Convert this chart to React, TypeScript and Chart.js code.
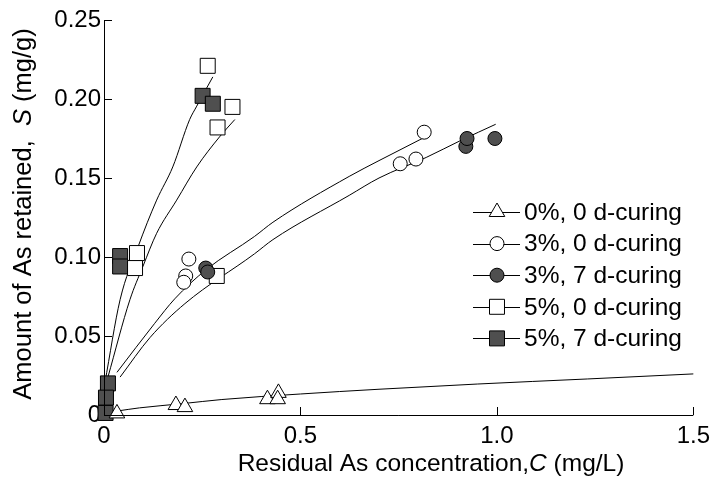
import { useEffect, useRef } from 'react';
import { Chart, registerables } from 'chart.js';

Chart.register(...registerables);

const FONT = 'Arial, "Liberation Sans", sans-serif';
const FILL_DARK = '#4f4f4f';

// Legend labels
const seriesLabels = ['0%, 0 d-curing', '3%, 0 d-curing', '3%, 7 d-curing', '5%, 0 d-curing', '5%, 7 d-curing'];

// Measured points: residual concentration C (mg/L) and amount retained S (mg/g)
const c0pct0d = [0.033, 0.183, 0.206, 0.416, 0.444, 0.442];
const s0pct0d = [0.001, 0.0063, 0.005, 0.010, 0.014, 0.010];

const c3pct0d = [0.216, 0.208, 0.203, 0.754, 0.794, 0.815];
const s3pct0d = [0.0987, 0.088, 0.084, 0.159, 0.162, 0.179];

const c3pct7d = [0.259, 0.264, 0.921, 0.924, 0.995];
const s3pct7d = [0.093, 0.0905, 0.170, 0.175, 0.175];

const c5pct0d = [0.084, 0.079, 0.287, 0.264, 0.289, 0.327];
const s5pct0d = [0.1025, 0.093, 0.088, 0.221, 0.182, 0.195];

const c5pct7d = [0.01, 0.005, 0.004, 0.041, 0.041, 0.251, 0.277];
const s5pct7d = [0.020, 0.011, 0.0013, 0.1006, 0.094, 0.202, 0.197];

// Fitted isotherm curves
const fitC0pct0d = [0.033, 0.09, 0.2, 0.3, 0.5, 0.7, 0.95, 1.23, 1.5];
const fitS0pct0d = [0.0025, 0.0045, 0.0072, 0.0098, 0.0133, 0.0163, 0.0196, 0.0228, 0.026];

const fitC3pct0d = [0.033, 0.129, 0.18, 0.26, 0.383, 0.43, 0.624, 0.70, 0.81];
const fitS3pct0d = [0.027, 0.058, 0.0735, 0.092, 0.113, 0.122, 0.151, 0.161, 0.175];

const fitC3pct7d = [0.041, 0.117, 0.206, 0.383, 0.43, 0.624, 0.70, 0.82, 0.91, 0.997];
const fitS3pct7d = [0.024, 0.049, 0.0705, 0.102, 0.111, 0.139, 0.150, 0.163, 0.174, 0.184];

const fitC5pct0d = [0.01, 0.066, 0.099, 0.134, 0.185, 0.236, 0.294, 0.333];
const fitS5pct0d = [0.024, 0.073, 0.094, 0.115, 0.136, 0.157, 0.176, 0.187];

const fitC5pct7d = [0.002, 0.041, 0.086, 0.134, 0.175, 0.218, 0.235, 0.277];
const fitS5pct7d = [0.02, 0.073, 0.106, 0.136, 0.157, 0.187, 0.195, 0.214];

// Axis ticks
const xTicks = [0, 0.5, 1.0, 1.5];
const yTicks = [0, 0.05, 0.1, 0.15, 0.2, 0.25];

type Marker = { style: 'triangle' | 'circle' | 'rect'; fill: string; radius: number };
const markers: Marker[] = [
  { style: 'triangle', fill: '#ffffff', radius: 9 },
  { style: 'circle', fill: '#ffffff', radius: 7 },
  { style: 'circle', fill: FILL_DARK, radius: 7 },
  { style: 'rect', fill: '#ffffff', radius: 10.6 },
  { style: 'rect', fill: FILL_DARK, radius: 10.6 },
];

const pts = (xs: number[], ys: number[]) => xs.map((x, i) => ({ x, y: ys[i] }));

function drawMarker(ctx: CanvasRenderingContext2D, m: Marker, x: number, y: number) {
  ctx.save();
  ctx.fillStyle = m.fill;
  ctx.strokeStyle = '#000';
  ctx.lineWidth = 1;
  ctx.beginPath();
  if (m.style === 'circle') {
    ctx.arc(x, y, m.radius, 0, Math.PI * 2);
  } else if (m.style === 'rect') {
    const h = m.radius * Math.SQRT1_2;
    ctx.rect(x - h, y - h, 2 * h, 2 * h);
  } else {
    const r = m.radius;
    ctx.moveTo(x, y - r);
    ctx.lineTo(x + r * Math.sin(Math.PI / 3), y + r * 0.5);
    ctx.lineTo(x - r * Math.sin(Math.PI / 3), y + r * 0.5);
    ctx.closePath();
  }
  ctx.fill();
  ctx.stroke();
  ctx.restore();
}

function drawMixed(ctx: CanvasRenderingContext2D, parts: [string, boolean][], size: number) {
  const widths = parts.map(([t, it]) => {
    ctx.font = `${it ? 'italic ' : ''}${size}px ${FONT}`;
    return ctx.measureText(t).width;
  });
  const total = widths.reduce((a, b) => a + b, 0);
  let x = -total / 2;
  parts.forEach(([t, it], i) => {
    ctx.font = `${it ? 'italic ' : ''}${size}px ${FONT}`;
    ctx.fillText(t, x, 0);
    x += widths[i];
  });
}

const decorations = {
  id: 'decorations',
  afterDraw(chart: any) {
    const ctx: CanvasRenderingContext2D = chart.ctx;
    const { left, right, top, bottom } = chart.chartArea;
    const xs = chart.scales.x;
    const ys = chart.scales.y;
    ctx.save();
    ctx.strokeStyle = '#000';
    ctx.lineWidth = 1;
    // axis lines
    ctx.beginPath();
    ctx.moveTo(left + 0.5, top);
    ctx.lineTo(left + 0.5, bottom + 0.5);
    ctx.lineTo(right, bottom + 0.5);
    ctx.stroke();
    // inward tick marks
    ctx.beginPath();
    yTicks.forEach((v) => {
      const py = Math.round(ys.getPixelForValue(v)) + 0.5;
      ctx.moveTo(left, py);
      ctx.lineTo(left + 8, py);
    });
    xTicks.forEach((v) => {
      const px = Math.round(xs.getPixelForValue(v)) + 0.5;
      ctx.moveTo(px, bottom);
      ctx.lineTo(px, bottom - 8);
    });
    ctx.stroke();

    // axis titles
    ctx.fillStyle = '#000';
    ctx.textBaseline = 'middle';
    ctx.textAlign = 'left';
    ctx.save();
    ctx.translate(431, 464);
    drawMixed(ctx, [['Residual As concentration,', false], ['C', true], [' (mg/L)', false]], 24.5);
    ctx.restore();
    ctx.save();
    ctx.translate(24, 214);
    ctx.rotate(-Math.PI / 2);
    drawMixed(ctx, [['Amount of As retained,  ', false], ['S', true], [' (mg/g)', false]], 25.5);
    ctx.restore();

    // legend
    const x0 = 473;
    const x1 = 520;
    const xm = 497;
    seriesLabels.forEach((label, i) => {
      const y = 212 + i * 31.6;
      ctx.beginPath();
      ctx.moveTo(x0, Math.round(y) + 0.5);
      ctx.lineTo(x1, Math.round(y) + 0.5);
      ctx.stroke();
      drawMarker(ctx, markers[i], xm, y);
      ctx.fillStyle = '#000';
      ctx.font = `24.5px ${FONT}`;
      ctx.textAlign = 'left';
      ctx.textBaseline = 'middle';
      ctx.fillText(label, 524, y + 1);
    });
    ctx.restore();
  },
};

export default function App() {
  const ref = useRef<HTMLCanvasElement>(null);

  useEffect(() => {
    document.body.style.margin = '0';
    const canvas = ref.current;
    if (!canvas) return;

    const measured = [
      [c0pct0d, s0pct0d],
      [c3pct0d, s3pct0d],
      [c3pct7d, s3pct7d],
      [c5pct0d, s5pct0d],
      [c5pct7d, s5pct7d],
    ];
    const fits = [
      [fitC0pct0d, fitS0pct0d],
      [fitC3pct0d, fitS3pct0d],
      [fitC3pct7d, fitS3pct7d],
      [fitC5pct0d, fitS5pct0d],
      [fitC5pct7d, fitS5pct7d],
    ];

    const datasets: any[] = [];
    fits.forEach(([xs, ys], i) => {
      datasets.push({
        label: `fit ${seriesLabels[i]}`,
        data: pts(xs, ys),
        showLine: true,
        borderColor: '#000',
        borderWidth: 1,
        pointRadius: 0,
        cubicInterpolationMode: 'monotone',
        order: 2,
        clip: false,
      });
    });
    measured.forEach(([xs, ys], i) => {
      const m = markers[i];
      datasets.push({
        label: seriesLabels[i],
        data: pts(xs, ys),
        showLine: false,
        pointStyle: m.style,
        pointRadius: m.radius,
        pointBackgroundColor: m.fill,
        pointBorderColor: '#000',
        pointBorderWidth: 1,
        order: 1,
        clip: false,
      });
    });

    const chart = new Chart(canvas, {
      type: 'scatter',
      data: { datasets },
      options: {
        animation: false,
        responsive: false,
        events: [],
        layout: { padding: { left: 0, top: 20, right: 20, bottom: 0 } },
        plugins: { legend: { display: false }, tooltip: { enabled: false } },
        scales: {
          x: {
            type: 'linear',
            min: 0,
            max: 1.5,
            afterFit: (s: any) => { s.height = 68; },
            afterBuildTicks: (s: any) => { s.ticks = xTicks.map((v) => ({ value: v })); },
            grid: { display: false, drawTicks: false },
            border: { display: false },
            ticks: {
              padding: 7,
              color: '#000',
              font: { family: FONT, size: 24 },
              callback: (v: any) => (v === 0 ? '0' : Number(v).toFixed(1)),
            },
          },
          y: {
            type: 'linear',
            min: 0,
            max: 0.25,
            afterFit: (s: any) => { s.width = 104; },
            afterBuildTicks: (s: any) => { s.ticks = yTicks.map((v) => ({ value: v })); },
            grid: { display: false, drawTicks: false },
            border: { display: false },
            ticks: {
              padding: 3,
              color: '#000',
              font: { family: FONT, size: 24 },
              callback: (v: any) => (v === 0 ? '0' : Number(v).toFixed(2)),
            },
          },
        },
      },
      plugins: [decorations],
    });

    return () => chart.destroy();
  }, []);

  return (
    <div style={{ width: 717, height: 483, background: '#fff' }}>
      <canvas ref={ref} width={717} height={483} style={{ display: 'block' }} />
    </div>
  );
}
